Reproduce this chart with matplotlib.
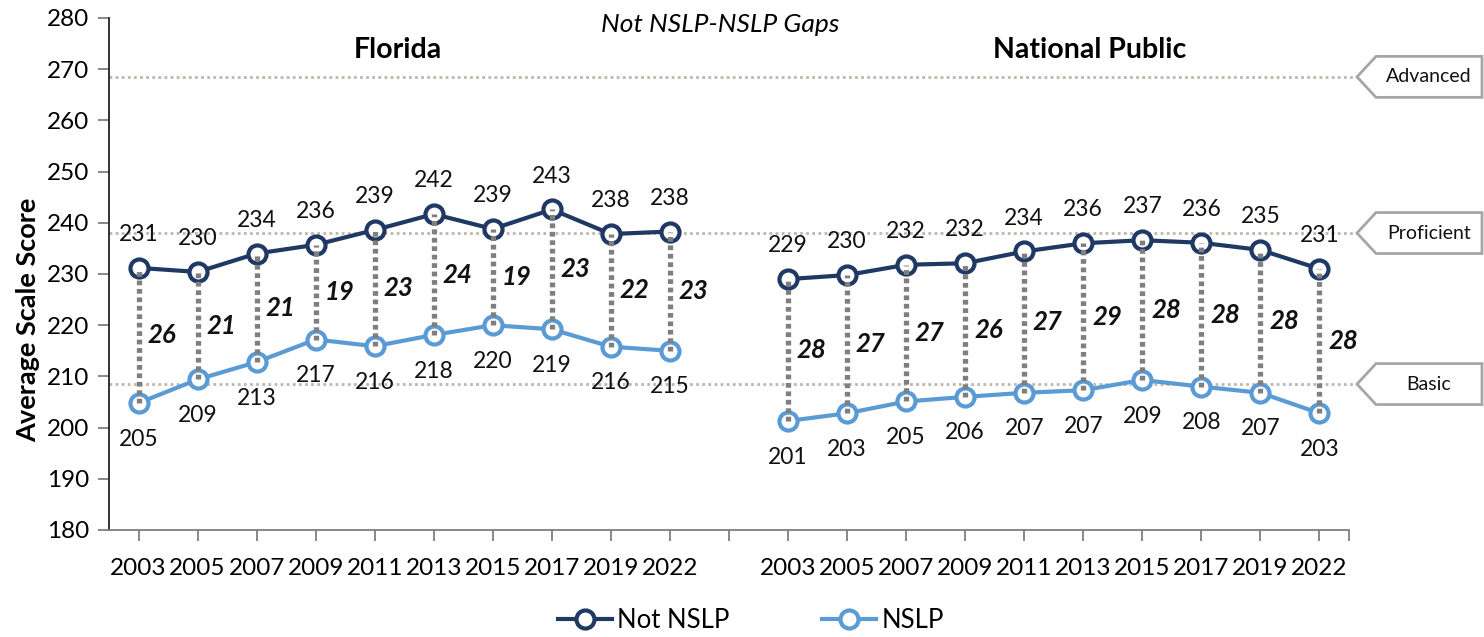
import matplotlib.pyplot as plt
from matplotlib.patches import Polygon
from matplotlib.lines import Line2D
from matplotlib.transforms import blended_transform_factory

plt.rcParams['font.family'] = ['Lato', 'DejaVu Sans']

# Data
years = ['2003', '2005', '2007', '2009', '2011', '2013', '2015', '2017', '2019', '2022']
fl_not_nslp = [231.2, 230.4, 234.0, 235.7, 238.6, 241.7, 238.8, 242.6, 237.8, 238.3]
fl_nslp = [204.8, 209.4, 212.8, 217.2, 215.9, 218.1, 220.0, 219.2, 215.8, 215.0]
fl_not_labels = [231, 230, 234, 236, 239, 242, 239, 243, 238, 238]
fl_nslp_labels = [205, 209, 213, 217, 216, 218, 220, 219, 216, 215]
fl_gaps = [26, 21, 21, 19, 23, 24, 19, 23, 22, 23]

np_not_nslp = [229.0, 229.8, 231.8, 232.1, 234.4, 236.0, 236.6, 236.1, 234.7, 231.0]
np_nslp = [201.3, 202.8, 205.1, 206.0, 206.8, 207.3, 209.3, 208.0, 206.8, 202.8]
np_not_labels = [229, 230, 232, 232, 234, 236, 237, 236, 235, 231]
np_nslp_labels = [201, 203, 205, 206, 207, 207, 209, 208, 207, 203]
np_gaps = [28, 27, 27, 26, 27, 29, 28, 28, 28, 28]

levels = ['Basic', 'Proficient', 'Advanced']
level_scores = [208.5, 238, 268.5]

dark = '#1F3864'
light = '#5B9BD5'

fig = plt.figure(figsize=(14.84, 6.37), dpi=100)
ax = fig.add_axes([109 / 1484, 1 - 530 / 637, 1240 / 1484, 512 / 637])

n = len(years)
x_fl = list(range(n))
x_np = [n + 1 + i for i in range(n)]

# achievement level reference lines with arrow labels
tr = blended_transform_factory(fig.transFigure, ax.transData)
for lvl, score in zip(levels, level_scores):
    ax.plot([0, 1.006], [score, score], transform=ax.get_yaxis_transform(),
            color='#BFB8AA', lw=2, linestyle=(0, (1, 1.2)), clip_on=False, zorder=1)
    x0, x1, x2 = 1357 / 1484, 1376 / 1484, 1482 / 1484
    h = 4.0
    poly = Polygon([(x0, score), (x1, score + h), (x2, score + h), (x2, score - h), (x1, score - h)],
                   closed=True, transform=tr, facecolor='white', edgecolor='#A6A6A6',
                   lw=2, clip_on=False, zorder=5)
    ax.add_patch(poly)
    ax.text((x1 + x2) / 2, score, lvl, transform=tr, ha='center', va='center',
            fontsize=14, color='#111111', zorder=6)

for xs, top, bot, top_lab, bot_lab, gaps in [
        (x_fl, fl_not_nslp, fl_nslp, fl_not_labels, fl_nslp_labels, fl_gaps),
        (x_np, np_not_nslp, np_nslp, np_not_labels, np_nslp_labels, np_gaps)]:
    ax.plot(xs, top, color=dark, lw=3, marker='o', ms=13, mfc='white', mew=3, zorder=3)
    ax.plot(xs, bot, color=light, lw=3, marker='o', ms=13, mfc='white', mew=3, zorder=3)
    ax.vlines(xs, bot, top, colors='#7F7F7F', lw=3.8, linestyles=(0, (0.9, 0.7)), zorder=4)
    for x, t, b, tl, bl, g in zip(xs, top, bot, top_lab, bot_lab, gaps):
        ax.annotate(str(tl), (x, t), xytext=(0, 24), textcoords='offset points',
                    ha='center', va='center', fontsize=16.5, color='#111111')
        ax.annotate(str(bl), (x, b), xytext=(0, -26), textcoords='offset points',
                    ha='center', va='center', fontsize=16.5, color='#111111')
        ax.text(x + 0.4, (t + b) / 2, str(g), ha='center', va='center', fontsize=18.5,
                fontweight='bold', fontstyle='italic', color='#111111')

ax.text(4.39, 273.8, 'Florida', ha='center', va='center', fontsize=20.5, fontweight='bold')
ax.text(16.1, 273.8, 'National Public', ha='center', va='center', fontsize=20.5, fontweight='bold')
fig.text(720 / 1484, 1 - 24 / 637, 'Not NSLP-NSLP Gaps', ha='center', va='center',
         fontsize=19, fontstyle='italic')

ax.set_xlim(-0.5, 2 * n + 0.5)
ax.set_ylim(180, 280)
ax.set_yticks(range(180, 281, 10))
ax.set_xticks(x_fl + [n] + x_np + [2 * n + 0.5])
ax.set_xticklabels(years + [''] + years + [''])
ax.tick_params(axis='both', labelsize=17.5, length=8, width=1.3, color='#7F7F7F')
ax.tick_params(axis='x', pad=12)
ax.tick_params(axis='y', pad=6)
for s in ['top', 'right']:
    ax.spines[s].set_visible(False)
ax.spines['left'].set_color('#222222')
ax.spines['bottom'].set_color('#7F7F7F')
ax.spines['left'].set_linewidth(1.3)
ax.spines['bottom'].set_linewidth(1.3)

fig.text(28 / 1484, 1 - 320 / 637, 'Average Scale Score', rotation=90, ha='center',
         va='center', fontsize=19.5, fontweight='bold')

handles = [Line2D([], [], color=dark, lw=3, marker='o', ms=13, mfc='white', mew=3),
           Line2D([], [], color=light, lw=3, marker='o', ms=13, mfc='white', mew=3)]
fig.legend(handles, ['Not NSLP', 'NSLP'], loc='center', bbox_to_anchor=(751 / 1484, 1 - 620 / 637),
           ncol=2, frameon=False, fontsize=18.5, handlelength=2.1, handletextpad=0.2,
           columnspacing=3.6)

fig.savefig('out.png', dpi=100)
